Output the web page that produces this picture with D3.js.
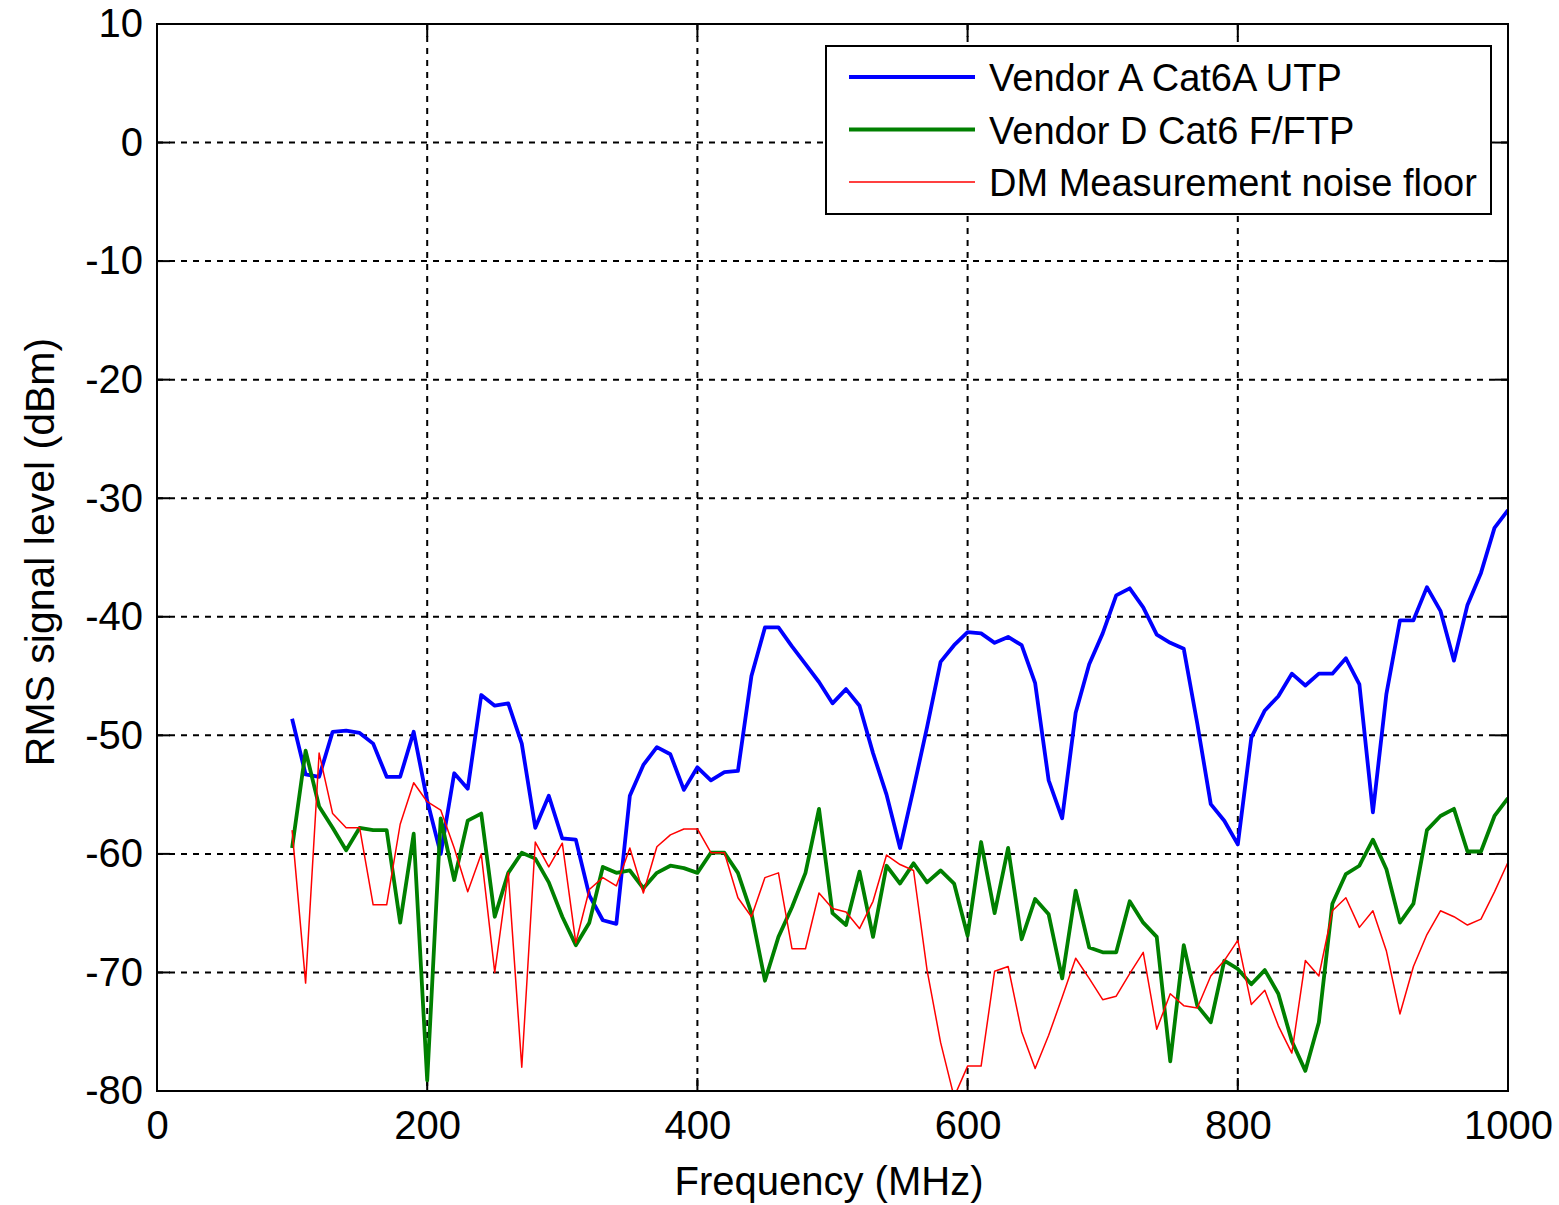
<!DOCTYPE html>
<html>
<head>
<meta charset="utf-8">
<script src="https://cdnjs.cloudflare.com/ajax/libs/d3/7.8.5/d3.min.js"></script>
<style>
  body { margin: 0; background: #fff; }
  svg { display: block; font-family: "Liberation Sans", Arial, sans-serif; }
</style>
</head>
<body>
<svg id="chart" width="1559" height="1205"></svg>
<script>
// frequency axis, one sample every 10 MHz from 100 to 1000
const freqs = d3.range(100, 1001, 10);

const vendorA = [
  -48.6, -53.3, -53.5, -49.7, -49.6, -49.8, -50.7, -53.5, -53.5, -49.7,
  -55.5, -60.0, -53.2, -54.5, -46.6, -47.5, -47.3, -50.7, -57.8, -55.1,
  -58.7, -58.8, -63.5, -65.6, -65.9, -55.1, -52.5, -51.0, -51.6, -54.6,
  -52.7, -53.8, -53.1, -53.0, -45.0, -40.9, -40.9, -42.5, -44.0, -45.5,
  -47.3, -46.1, -47.5, -51.5, -55.0, -59.5, -54.5, -49.3, -43.8, -42.4,
  -41.3, -41.4, -42.2, -41.7, -42.4, -45.6, -53.8, -57.0, -48.1, -44.0,
  -41.4, -38.2, -37.6, -39.2, -41.5, -42.2, -42.7, -49.0, -55.8, -57.2,
  -59.2, -50.2, -47.9, -46.7, -44.8, -45.8, -44.8, -44.8, -43.5, -45.7,
  -56.5, -46.5, -40.3, -40.3, -37.5, -39.5, -43.7, -39.0, -36.3, -32.5,
  -31.0
];

const vendorD = [
  -59.5, -51.3, -56.0, -57.8, -59.7, -57.8, -58.0, -58.0, -65.8, -58.3,
  -79.1, -57.0, -62.2, -57.2, -56.6, -65.3, -61.6, -59.9, -60.4, -62.4,
  -65.3, -67.7, -65.8, -61.1, -61.6, -61.4, -62.9, -61.6, -61.0, -61.2,
  -61.6, -59.9, -59.9, -61.6, -65.0, -70.7, -67.0, -64.5, -61.6, -56.2,
  -65.0, -66.0, -61.5, -67.0, -61.0, -62.5, -60.8, -62.4, -61.4, -62.5,
  -66.9, -59.0, -65.0, -59.5, -67.2, -63.8, -65.1, -70.5, -63.1, -67.9,
  -68.3, -68.3, -64.0, -65.8, -67.0, -77.5, -67.7, -72.8, -74.2, -69.0,
  -69.7, -71.0, -69.8, -71.8, -75.8, -78.3, -74.2, -64.2, -61.7, -61.0,
  -58.8, -61.3, -65.8, -64.2, -58.0, -56.8, -56.2, -59.8, -59.8, -56.8,
  -55.3
];

const noiseFloor = [
  -58.0, -70.9, -51.5, -56.6, -57.8, -57.8, -64.3, -64.3, -57.5, -54.0,
  -55.6, -56.3, -59.5, -63.2, -60.0, -70.0, -61.6, -78.0, -59.0, -61.1,
  -59.1, -67.5, -63.0, -62.0, -62.7, -59.5, -63.3, -59.4, -58.4, -57.9,
  -57.9, -59.9, -59.9, -63.7, -65.3, -62.0, -61.6, -68.0, -68.0, -63.3,
  -64.6, -64.9, -66.3, -64.0, -60.1, -60.9, -61.4, -69.8, -75.9, -80.5,
  -77.9, -77.9, -69.9, -69.5, -75.0, -78.1, -75.3, -72.1, -68.8, -70.5,
  -72.3, -72.0, -70.1, -68.3, -74.8, -71.8, -72.8, -73.0, -70.3, -69.0,
  -67.3, -72.7, -71.5, -74.5, -76.8, -69.0, -70.3, -64.8, -63.7, -66.2,
  -64.8, -68.2, -73.5, -69.5, -66.8, -64.8, -65.3, -66.0, -65.5, -63.2,
  -60.7
];

const seriesNames = ["Vendor A Cat6A UTP", "Vendor D Cat6 F/FTP", "DM Measurement noise floor"];
const seriesColors = ["#0000ff", "#008000", "#ff0000"];
const seriesWidths = [3.8, 3.8, 1.5];
const xTicks = [0, 200, 400, 600, 800, 1000];
const yTicks = [10, 0, -10, -20, -30, -40, -50, -60, -70, -80];

const svg = d3.select("#chart");
const margin = { left: 157, right: 51, top: 24, bottom: 114 };
const width = 1559 - margin.left - margin.right;
const height = 1205 - margin.top - margin.bottom;

const x = d3.scaleLinear().domain([0, 1000]).range([0, width]);
const y = d3.scaleLinear().domain([-80, 10]).range([height, 0]);

const g = svg.append("g").attr("transform", `translate(${margin.left},${margin.top})`);

// dashed grid
g.append("g").selectAll("line").data(xTicks.slice(1, -1)).join("line")
  .attr("x1", d => x(d)).attr("x2", d => x(d))
  .attr("y1", 0).attr("y2", height)
  .attr("stroke", "#000").attr("stroke-width", 2).attr("stroke-dasharray", "6,6");
g.append("g").selectAll("line").data(yTicks.slice(1, -1)).join("line")
  .attr("x1", 0).attr("x2", width)
  .attr("y1", d => y(d)).attr("y2", d => y(d))
  .attr("stroke", "#000").attr("stroke-width", 2).attr("stroke-dasharray", "6,6");

// inward tick marks on all four sides
const tk = 13;
const ticks = g.append("g").attr("stroke", "#000").attr("stroke-width", 2);
xTicks.forEach(d => {
  ticks.append("line").attr("x1", x(d)).attr("x2", x(d)).attr("y1", height).attr("y2", height - tk);
  ticks.append("line").attr("x1", x(d)).attr("x2", x(d)).attr("y1", 0).attr("y2", tk);
});
yTicks.forEach(d => {
  ticks.append("line").attr("x1", 0).attr("x2", tk).attr("y1", y(d)).attr("y2", y(d));
  ticks.append("line").attr("x1", width).attr("x2", width - tk).attr("y1", y(d)).attr("y2", y(d));
});

// tick labels via d3 axes
const xAxis = g.append("g").attr("transform", `translate(0,${height})`)
  .call(d3.axisBottom(x).tickValues(xTicks).tickSize(0).tickPadding(20).tickFormat(d => String(d)));
const yAxis = g.append("g")
  .call(d3.axisLeft(y).tickValues(yTicks).tickSize(0).tickPadding(14).tickFormat(d => String(d)));
[xAxis, yAxis].forEach(a => {
  a.select(".domain").remove();
  a.selectAll("text").attr("font-size", 40).attr("fill", "#000")
    .attr("font-family", "'Liberation Sans', Arial, sans-serif");
});

// lines, clipped to the plot box
svg.append("defs").append("clipPath").attr("id", "plot-clip")
  .append("rect").attr("width", width).attr("height", height);

const line = d3.line().x((d, i) => x(freqs[i])).y(d => y(d));
const lines = g.append("g").attr("clip-path", "url(#plot-clip)");
[vendorA, vendorD, noiseFloor].forEach((s, i) => {
  lines.append("path").datum(s)
    .attr("d", line)
    .attr("fill", "none")
    .attr("stroke", seriesColors[i])
    .attr("stroke-width", seriesWidths[i])
    .attr("stroke-linejoin", "round");
});

// axes box
g.append("rect").attr("width", width).attr("height", height)
  .attr("fill", "none").attr("stroke", "#000").attr("stroke-width", 2);

// axis titles
svg.append("text")
  .attr("x", 829).attr("y", 1195)
  .attr("text-anchor", "middle").attr("font-size", 40)
  .text("Frequency (MHz)");
svg.append("text")
  .attr("transform", `translate(54,552) rotate(-90)`)
  .attr("text-anchor", "middle").attr("font-size", 41)
  .text("RMS signal level (dBm)");

// legend
const legend = g.append("g").attr("transform", `translate(${826 - margin.left},${46 - margin.top})`);
legend.append("rect").attr("width", 665).attr("height", 168)
  .attr("fill", "#fff").attr("stroke", "#000").attr("stroke-width", 2);
seriesNames.forEach((name, i) => {
  const row = legend.append("g").attr("transform", `translate(0,${31 + i * 52.5})`);
  row.append("line").attr("x1", 23).attr("x2", 149)
    .attr("stroke", seriesColors[i]).attr("stroke-width", seriesWidths[i]);
  row.append("text").attr("x", 163).attr("y", 0).attr("dy", "0.38em")
    .attr("font-size", 38).text(name);
});
</script>
</body>
</html>
